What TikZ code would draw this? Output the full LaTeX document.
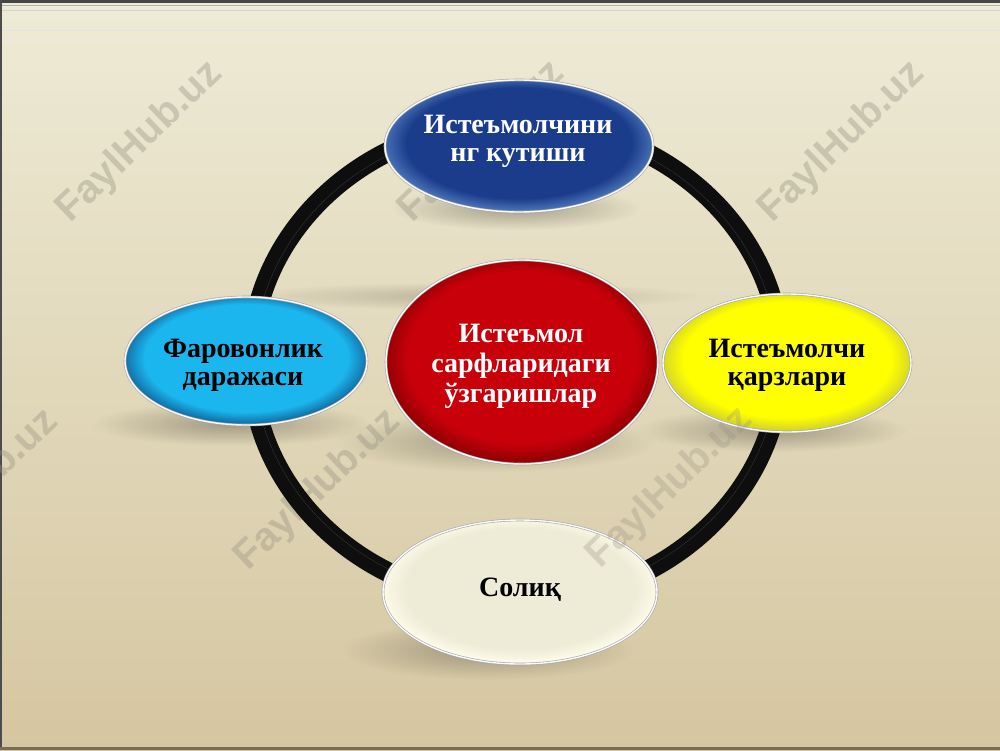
\documentclass[tikz,border=0pt]{standalone}
\usepackage{fontspec}
\setmainfont{Liberation Serif}
\newfontfamily\wmfont{Liberation Sans}
\usetikzlibrary{shapes.geometric,fadings,calc}

\definecolor{bgtop}{RGB}{238,235,214}
\definecolor{bgmid}{RGB}{235,230,208}
\definecolor{bgbot}{RGB}{213,198,160}
\definecolor{ringc}{RGB}{14,14,14}
\definecolor{bblue}{RGB}{27,60,138}
\definecolor{bbluerim}{RGB}{70,110,180}
\definecolor{bred}{RGB}{200,0,10}
\definecolor{bredrim}{RGB}{150,0,5}
\definecolor{bcyan}{RGB}{28,182,238}
\definecolor{bcyanrim}{RGB}{18,115,170}
\definecolor{byel}{RGB}{255,255,0}
\definecolor{byelrim}{RGB}{215,215,40}
\definecolor{bcream}{RGB}{238,235,214}
\definecolor{bcreamrim}{RGB}{252,250,232}
\definecolor{shadc}{RGB}{110,104,88}
\definecolor{wmc}{RGB}{150,145,130}

\pgfdeclareradialshading[bubin,bubout]{bubble}{\pgfpoint{0bp}{2bp}}{color(0bp)=(bubin); color(21bp)=(bubin); color(25bp)=(bubout); color(50bp)=(bubout)}
\tikzfading[name=softshadow, inner color=transparent!0, outer color=transparent!100]

\tikzset{
  bub/.style={ellipse, inner sep=0pt, shade, shading=bubble,
    draw=gray!70, double=white!96!gray, double distance=1.4pt, line width=0.6pt},
  bubcol/.code 2 args={\colorlet{bubin}{#1}\colorlet{bubout}{#2}},
  shadowblob/.style={fill=shadc, fill opacity=0.55, path fading=softshadow},
  ringline/.style={draw=ringc, line width=20pt},
  lbl/.style={font=\bfseries\fontsize{28}{28}\selectfont, align=center, inner sep=0pt},
  wm/.style={font=\wmfont\bfseries\fontsize{40}{40}\selectfont, text=wmc, text opacity=0.38, rotate=44, inner sep=0pt}
}

\begin{document}
\begin{tikzpicture}[x=1pt,y=-1pt]
\useasboundingbox (0,0) rectangle (1000,750);
\clip (0,0) rectangle (1000,750);
% background
\shade[top color=bgtop, middle color=bgmid, bottom color=bgbot] (0,0) rectangle (1000,750);
\fill[gray!55!black] (0,0) rectangle (1000,2.5);
\draw[gray!60, line width=1pt] (0,5) -- (1000,5);
\draw[gray!35, line width=0.8pt] (0,10) -- (1000,10);
\draw[gray!22, line width=0.8pt] (0,30) -- (1000,30);
\draw[gray!18, line width=0.8pt] (0,40) -- (1000,40);
\fill[gray!60!black] (0,0) rectangle (1.5,750);
\fill[black!45!bgbot] (0,747) rectangle (1000,750);

% shadows
\fill[shadowblob] (515,208) ellipse [x radius=125pt, y radius=22pt];
\fill[shadowblob] (232,424) ellipse [x radius=140pt, y radius=22pt];
\fill[shadowblob] (495,442) ellipse [x radius=160pt, y radius=30pt];
\fill[shadowblob] (772,430) ellipse [x radius=135pt, y radius=22pt];
\fill[shadowblob] (488,650) ellipse [x radius=145pt, y radius=30pt];
\fill[shadowblob, fill opacity=0.35] (470,296) ellipse [x radius=230pt, y radius=14pt];

% watermarks (under)
\node[wm] (wm1) at (140,142) {FaylHub.uz};
\node[wm] (wm2) at (482,142) {FaylHub.uz};
\node[wm] (wm3) at (842,142) {FaylHub.uz};
\node[wm] (wm4) at (-24,490) {FaylHub.uz};
\node[wm] (wm5) at (318,490) {FaylHub.uz};

% ring
\coordinate (rc) at (516,362);
\draw[ringline] (rc) ellipse [x radius=265pt, y radius=240pt];
\draw[gray!70, line width=0.4pt, opacity=0.25] (rc) ellipse [x radius=262pt, y radius=237pt];

% ellipses
\node[bub, bubcol={bblue}{bbluerim}, minimum width=268pt, minimum height=132pt] (top) at (519,146) {};
\node[bub, bubcol={bcyan}{bcyanrim}, minimum width=242pt, minimum height=128pt] (left) at (246,361) {};
\node[bub, bubcol={byel}{byelrim}, minimum width=248pt, minimum height=138pt] (right) at (787,363) {};
\node[bub, bubcol={bcream}{bcreamrim}, minimum width=274pt, minimum height=144pt] (bottom) at (520,592) {};
\node[bub, bubcol={bred}{bredrim}, minimum width=272pt, minimum height=204pt] (mid) at (522,362) {};

% labels
\node[lbl, text=white] (topt) at (518,141) {Истеъмолчини\\нг кутиши};
\node[lbl, text=white, font=\bfseries\fontsize{28}{30}\selectfont] (midt) at (521,366) {Истеъмол\\сарфларидаги\\ўзгаришлар};
\node[lbl, text=black] (leftt) at (243,365) {Фаровонлик\\даражаси};
\node[lbl, text=black] (rightt) at (787,365) {Истеъмолчи\\қарзлари};
\node[lbl, text=black] (bottomt) at (520,590) {Солиқ};

% watermark over
\node[wm, text opacity=0.3] (wm6) at (670,488) {FaylHub.uz};
\end{tikzpicture}
\end{document}
